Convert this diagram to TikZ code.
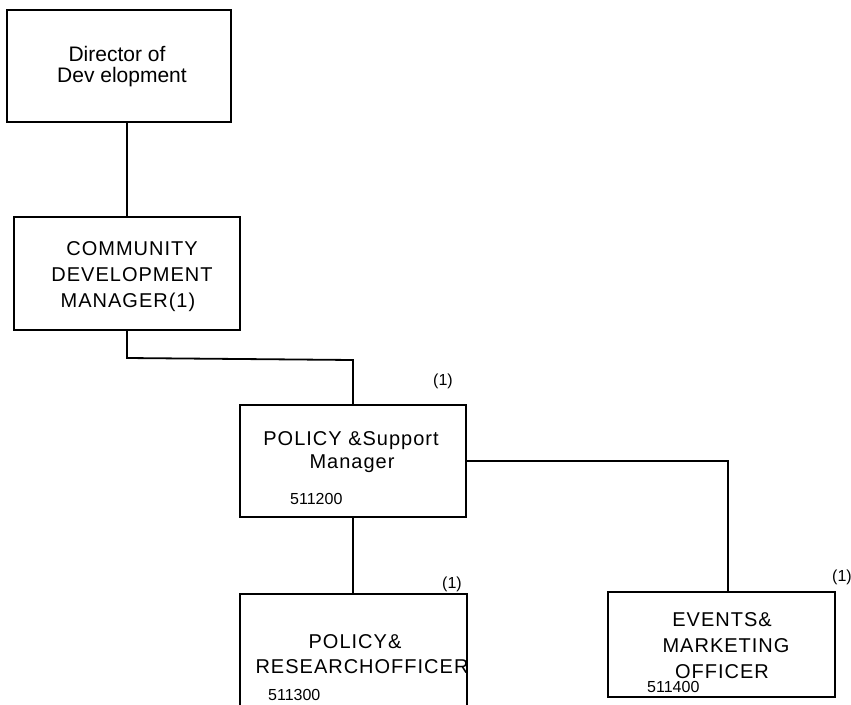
\documentclass[tikz,border=0pt]{standalone}
\usepackage{fontspec}
\setmainfont{Liberation Sans}
\newfontfamily\spacedfont[LetterSpace=5]{Liberation Sans}
\begin{document}
\begin{tikzpicture}[x=1pt,y=-1pt,
  box/.style={draw, line width=1.8pt, rectangle, inner sep=0pt},
  conn/.style={line width=1.8pt},
  lbl/.style={font=\spacedfont\fontsize{20}{24}\selectfont, inner sep=0pt, anchor=base},
  lblbig/.style={font=\fontsize{21}{24}\selectfont, inner sep=0pt, anchor=base},
  small/.style={font=\fontsize{16}{18}\selectfont, inner sep=0pt, anchor=base west}]
\path[use as bounding box] (0,0) rectangle (851,704);
\clip (0,0) rectangle (851,704);
% boxes
\node[box, minimum width=224pt, minimum height=112pt] (b1) at (119,66) {};
\node[box, minimum width=226pt, minimum height=113pt] (b2) at (127,273.5) {};
\node[box, minimum width=226pt, minimum height=112pt] (b3) at (353,461) {};
\node[box, minimum width=227pt, minimum height=146pt] (b4) at (353.5,667) {};
\node[box, minimum width=227pt, minimum height=105pt] (b5) at (721.5,644.5) {};
% texts
\node[lblbig] (t1a) at (117,61) {Director of};
\node[lblbig] (t1b) at (122,82) {Dev elopment};
\node[lbl] (t2a) at (132,255) {COMMUNITY};
\node[lbl] (t2b) at (132,281) {DEVELOPMENT};
\node[lbl] (t2c) at (128,307) {MANAGER(1)};
\node[lbl] (t3a) at (351,445) {POLICY \&Support};
\node[lbl] (t3b) at (352,468) {Manager};
\node[small] (t3c) at (290,504) {511200};
\node[small] (n3) at (433,385) {(1)};
\node[lbl] (t4a) at (355,648) {POLICY\&};
\node[lbl] (t4b) at (362,673) {RESEARCHOFFICER};
\node[small] (t4c) at (268,700) {511300};
\node[small] (n4) at (442,588) {(1)};
\node[lbl] (t5a) at (722,626) {EVENTS\&};
\node[lbl] (t5b) at (726,652) {MARKETING};
\node[lbl] (t5c) at (722,678) {OFFICER};
\node[small] (t5d) at (647,692) {511400};
\node[small] (n5) at (832,581) {(1)};
% connectors
\coordinate (j1) at (127,358);
\coordinate (j2) at (353,360);
\coordinate (k) at (728,461);
\draw[conn] (b2.north) -- (b2.north |- b1.south);
\draw[conn] (b2.south) -- (j1) -- (j2) -- (b3.north);
\draw[conn] (b3.east) -- (k) -- (k |- b5.north);
\draw[conn] (b3.south) -- (b3.south |- b4.north);
\end{tikzpicture}
\end{document}
